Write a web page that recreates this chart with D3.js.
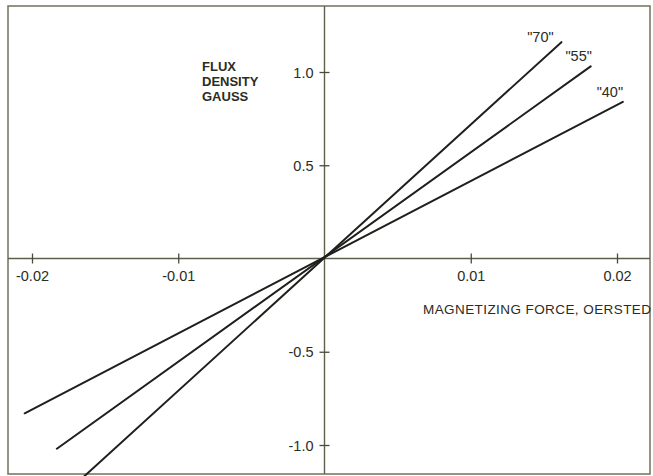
<!DOCTYPE html>
<html>
<head>
<meta charset="utf-8">
<script src="https://cdn.jsdelivr.net/npm/d3@7"></script>
<style>
  html, body { margin: 0; padding: 0; background: #ffffff; }
  svg { display: block; }
  text { font-family: "Liberation Sans", Arial, sans-serif; fill: #2c2c22; }
</style>
</head>
<body>
<svg id="chart" width="653" height="476"></svg>
<script>
// ---- data ----
const seriesNames = ["\"70\"", "\"55\"", "\"40\""];
const xStart = [-0.0166, -0.0183, -0.0205];
const yStart = [-1.18, -1.02, -0.83];
const xEnd = [0.0162, 0.0182, 0.0204];
const yEnd = [1.16, 1.03, 0.84];
const xTicks = [-0.02, -0.01, 0.01, 0.02];
const xTickLabels = ["-0.02", "-0.01", "0.01", "0.02"];
const yTicks = [1.0, 0.5, -0.5, -1.0];
const yTickLabels = ["1.0", "0.5", "-0.5", "-1.0"];

// ---- layout ----
const frame = { left: 8, top: 6, right: 650, bottom: 474 };
const svg = d3.select("#chart");

const x = d3.scaleLinear().domain([-0.02, 0.02]).range([32, 617]);
const y = d3.scaleLinear().domain([-1, 1]).range([445, 72]);

// frame
svg.append("rect")
  .attr("x", frame.left).attr("y", frame.top)
  .attr("width", frame.right - frame.left).attr("height", frame.bottom - frame.top)
  .attr("fill", "none").attr("stroke", "#7a7a66").attr("stroke-width", 1.6);

// axis lines
svg.append("line")
  .attr("x1", frame.left).attr("x2", frame.right)
  .attr("y1", y(0)).attr("y2", y(0))
  .attr("stroke", "#5e5e4c").attr("stroke-width", 1.4);
svg.append("line")
  .attr("x1", x(0)).attr("x2", x(0))
  .attr("y1", frame.top).attr("y2", frame.bottom)
  .attr("stroke", "#5e5e4c").attr("stroke-width", 1.4);

// x axis
const gx = svg.append("g")
  .attr("transform", `translate(0,${y(0)})`)
  .call(d3.axisBottom(x).tickValues(xTicks)
    .tickFormat((d, i) => xTickLabels[i]).tickSize(4).tickPadding(0));
gx.select(".domain").remove();
gx.selectAll(".tick line").attr("y1", -5).attr("y2", 5)
  .attr("stroke", "#4a4a3a").attr("stroke-width", 1.3);
gx.selectAll(".tick text")
  .attr("y", 22).attr("dy", 0)
  .attr("font-size", 14.5).attr("fill", "#2c2c22")
  .attr("font-family", "Liberation Sans, Arial, sans-serif");

// y axis
const gy = svg.append("g")
  .attr("transform", `translate(${x(0)},0)`)
  .call(d3.axisLeft(y).tickValues(yTicks)
    .tickFormat((d, i) => yTickLabels[i]).tickSize(4).tickPadding(0));
gy.select(".domain").remove();
gy.selectAll(".tick line").attr("x1", -5).attr("x2", 5)
  .attr("stroke", "#4a4a3a").attr("stroke-width", 1.3);
gy.selectAll(".tick text")
  .attr("x", -11).attr("dy", "0.35em")
  .attr("font-size", 14.5).attr("fill", "#2c2c22")
  .attr("font-family", "Liberation Sans, Arial, sans-serif");

// series lines
const series = seriesNames.map((n, i) => ({
  name: n, x0: xStart[i], y0: yStart[i], x1: xEnd[i], y1: yEnd[i]
}));
svg.append("g").selectAll("line").data(series).join("line")
  .attr("x1", d => x(d.x0)).attr("y1", d => y(d.y0))
  .attr("x2", d => x(d.x1)).attr("y2", d => y(d.y1))
  .attr("stroke", "#1f1f1c").attr("stroke-width", 2)
  .attr("stroke-linecap", "round");

// series labels
const labelDx = [-21, -12, -13];
const labelDy = [0, -5, -5];
svg.append("g").selectAll("text").data(series).join("text")
  .attr("x", (d, i) => x(d.x1) + labelDx[i])
  .attr("y", (d, i) => y(d.y1) + labelDy[i])
  .attr("text-anchor", "middle")
  .attr("font-size", 14.5)
  .text(d => d.name);

// axis titles
const yTitle = ["FLUX", "DENSITY", "GAUSS"];
svg.append("g").selectAll("text").data(yTitle).join("text")
  .attr("x", 202)
  .attr("y", (d, i) => 71 + i * 15)
  .attr("font-size", 13)
  .attr("font-weight", "bold")
  .attr("fill", "#3a3a2e")
  .text(d => d);

svg.append("text")
  .attr("x", 423).attr("y", 314)
  .attr("font-size", 13.5)
  .attr("textLength", 228)
  .attr("lengthAdjust", "spacing")
  .attr("fill", "#2c2c22")
  .text("MAGNETIZING FORCE, OERSTED");
</script>
</body>
</html>
